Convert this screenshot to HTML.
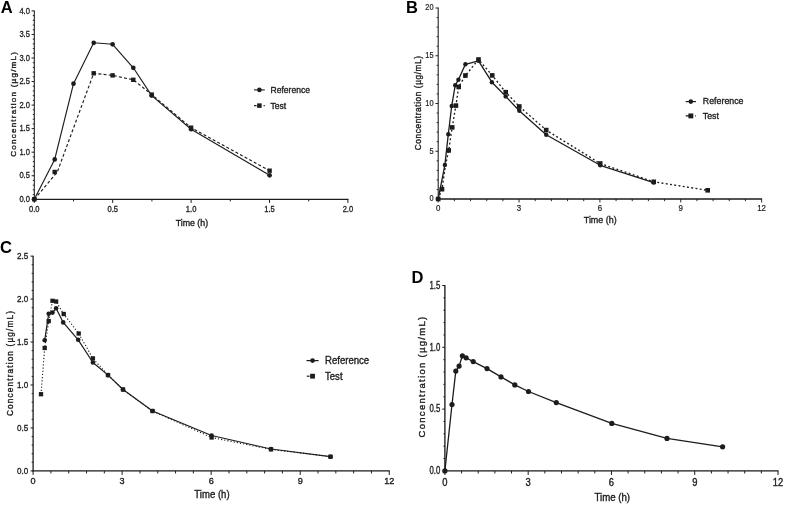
<!DOCTYPE html>
<html><head><meta charset="utf-8"><title>Concentration-time profiles</title>
<style>
html,body{margin:0;padding:0;background:#fff;}
body{width:785px;height:506px;overflow:hidden;font-family:"Liberation Sans",sans-serif;}
svg{display:block;font-family:"Liberation Sans",sans-serif;}
</style></head>
<body>
<svg width="785" height="506" viewBox="0 0 785 506">
<rect width="785" height="506" fill="#fff"/>
<g filter="url(#soft)">
<g>
<text x="0.8" y="12.8" font-size="16.5" font-weight="bold" fill="#000">A</text>
<path d="M34.3 10.4V199.9" fill="none" stroke="#1c1c1c" stroke-width="1.05"/>
<path d="M33.77 199.3H348.4" fill="none" stroke="#1c1c1c" stroke-width="1.2"/>
<path d="M34.3 199.3h-2.7M34.3 194.59h-1.5M34.3 189.88h-1.5M34.3 185.17h-1.5M34.3 180.46h-1.5M34.3 175.75h-2.7M34.3 171.04h-1.5M34.3 166.33h-1.5M34.3 161.62h-1.5M34.3 156.91h-1.5M34.3 152.2h-2.7M34.3 147.49h-1.5M34.3 142.78h-1.5M34.3 138.07h-1.5M34.3 133.36h-1.5M34.3 128.65h-2.7M34.3 123.94h-1.5M34.3 119.23h-1.5M34.3 114.52h-1.5M34.3 109.81h-1.5M34.3 105.1h-2.7M34.3 100.39h-1.5M34.3 95.68h-1.5M34.3 90.97h-1.5M34.3 86.26h-1.5M34.3 81.55h-2.7M34.3 76.84h-1.5M34.3 72.13h-1.5M34.3 67.42h-1.5M34.3 62.71h-1.5M34.3 58h-2.7M34.3 53.29h-1.5M34.3 48.58h-1.5M34.3 43.87h-1.5M34.3 39.16h-1.5M34.3 34.45h-2.7M34.3 29.74h-1.5M34.3 25.03h-1.5M34.3 20.32h-1.5M34.3 15.61h-1.5M34.3 10.9h-2.7M34.3 199.3v3.6M73.5 199.3v2.1M112.7 199.3v3.6M151.9 199.3v2.1M191.1 199.3v3.6M230.3 199.3v2.1M269.5 199.3v3.6M308.7 199.3v2.1M347.9 199.3v3.6" fill="none" stroke="#1c1c1c" stroke-width="1.0"/>
<text transform="translate(29.9 201.91) scale(0.9 1)" font-size="8.4" text-anchor="end" fill="#202020" stroke="#202020" stroke-width="0.3">0.0</text>
<text transform="translate(29.9 178.36) scale(0.9 1)" font-size="8.4" text-anchor="end" fill="#202020" stroke="#202020" stroke-width="0.3">0.5</text>
<text transform="translate(29.9 154.81) scale(0.9 1)" font-size="8.4" text-anchor="end" fill="#202020" stroke="#202020" stroke-width="0.3">1.0</text>
<text transform="translate(29.9 131.26) scale(0.9 1)" font-size="8.4" text-anchor="end" fill="#202020" stroke="#202020" stroke-width="0.3">1.5</text>
<text transform="translate(29.9 107.71) scale(0.9 1)" font-size="8.4" text-anchor="end" fill="#202020" stroke="#202020" stroke-width="0.3">2.0</text>
<text transform="translate(29.9 84.16) scale(0.9 1)" font-size="8.4" text-anchor="end" fill="#202020" stroke="#202020" stroke-width="0.3">2.5</text>
<text transform="translate(29.9 60.61) scale(0.9 1)" font-size="8.4" text-anchor="end" fill="#202020" stroke="#202020" stroke-width="0.3">3.0</text>
<text transform="translate(29.9 37.06) scale(0.9 1)" font-size="8.4" text-anchor="end" fill="#202020" stroke="#202020" stroke-width="0.3">3.5</text>
<text transform="translate(29.9 13.51) scale(0.9 1)" font-size="8.4" text-anchor="end" fill="#202020" stroke="#202020" stroke-width="0.3">4.0</text>
<text transform="translate(34.3 211.9) scale(0.9 1)" font-size="8.4" text-anchor="middle" fill="#202020" stroke="#202020" stroke-width="0.3">0.0</text>
<text transform="translate(112.7 211.9) scale(0.9 1)" font-size="8.4" text-anchor="middle" fill="#202020" stroke="#202020" stroke-width="0.3">0.5</text>
<text transform="translate(191.1 211.9) scale(0.9 1)" font-size="8.4" text-anchor="middle" fill="#202020" stroke="#202020" stroke-width="0.3">1.0</text>
<text transform="translate(269.5 211.9) scale(0.9 1)" font-size="8.4" text-anchor="middle" fill="#202020" stroke="#202020" stroke-width="0.3">1.5</text>
<text transform="translate(347.9 211.9) scale(0.9 1)" font-size="8.4" text-anchor="middle" fill="#202020" stroke="#202020" stroke-width="0.3">2.0</text>
<text transform="translate(191.9 226) scale(0.95 1)" font-size="9.3" text-anchor="middle" fill="#202020" stroke="#202020" stroke-width="0.35">Time (h)</text>
<text transform="translate(15.6 103.8) rotate(-90) scale(1.0 1)" font-size="8.1" letter-spacing="1.2" fill="#202020" stroke="#202020" stroke-width="0.35" text-anchor="middle">Concentration (µg/mL)</text>
<path d="M34.3 199.3L54.7 159.4L73.5 83.7L93.7 42.8L112.6 44.3L133.3 67.8L151.7 95.6L191.1 129.2L269.6 175.3" fill="none" stroke="#1c1c1c" stroke-width="1.15" stroke-linejoin="round"/>
<circle cx="34.3" cy="199.3" r="2.35" fill="#1c1c1c"/>
<circle cx="54.7" cy="159.4" r="2.35" fill="#1c1c1c"/>
<circle cx="73.5" cy="83.7" r="2.35" fill="#1c1c1c"/>
<circle cx="93.7" cy="42.8" r="2.35" fill="#1c1c1c"/>
<circle cx="112.6" cy="44.3" r="2.35" fill="#1c1c1c"/>
<circle cx="133.3" cy="67.8" r="2.35" fill="#1c1c1c"/>
<circle cx="151.7" cy="95.6" r="2.35" fill="#1c1c1c"/>
<circle cx="191.1" cy="129.2" r="2.35" fill="#1c1c1c"/>
<circle cx="269.6" cy="175.3" r="2.35" fill="#1c1c1c"/>
<path d="M34.3 199.3L57.3 172L93.7 73.3L112.6 75.4L133.3 79.8L151.7 94.6L191.1 127.7L269.6 170.7" fill="none" stroke="#1c1c1c" stroke-width="1.15" stroke-dasharray="3 2.2" stroke-linejoin="round"/>
<rect x="32.1" y="197.1" width="4.4" height="4.4" fill="#1c1c1c"/>
<rect x="52.5" y="169.8" width="4.4" height="4.4" fill="#1c1c1c"/>
<rect x="91.5" y="71.1" width="4.4" height="4.4" fill="#1c1c1c"/>
<rect x="110.4" y="73.2" width="4.4" height="4.4" fill="#1c1c1c"/>
<rect x="131.1" y="77.6" width="4.4" height="4.4" fill="#1c1c1c"/>
<rect x="149.5" y="92.4" width="4.4" height="4.4" fill="#1c1c1c"/>
<rect x="188.9" y="125.5" width="4.4" height="4.4" fill="#1c1c1c"/>
<rect x="267.4" y="168.5" width="4.4" height="4.4" fill="#1c1c1c"/>
<path d="M254 89.9H264.8" stroke="#1c1c1c" stroke-width="1.1"/>
<circle cx="259.4" cy="89.9" r="2.3" fill="#1c1c1c"/>
<path d="M254 105.6H256.6M263.6 105.6H264.8" stroke="#1c1c1c" stroke-width="1.1"/>
<rect x="257.15" y="103.35" width="4.5" height="4.5" fill="#1c1c1c"/>
<text transform="translate(270.6 92.8) scale(0.9 1)" font-size="9.5" text-anchor="start" fill="#202020" stroke="#202020" stroke-width="0.35">Reference</text>
<text transform="translate(270.6 108.5) scale(0.9 1)" font-size="9.5" text-anchor="start" fill="#202020" stroke="#202020" stroke-width="0.35">Test</text>
</g>
<g>
<text x="406" y="12.7" font-size="16.5" font-weight="bold" fill="#000">B</text>
<path d="M438.2 7.53V199.65" fill="none" stroke="#1c1c1c" stroke-width="1.05"/>
<path d="M437.68 199H762.07" fill="none" stroke="#1c1c1c" stroke-width="1.3"/>
<path d="M438.2 199h-2.75M438.2 189.45h-1.55M438.2 179.9h-1.55M438.2 170.35h-1.55M438.2 160.8h-1.55M438.2 151.25h-2.75M438.2 141.7h-1.55M438.2 132.15h-1.55M438.2 122.6h-1.55M438.2 113.05h-1.55M438.2 103.5h-2.75M438.2 93.95h-1.55M438.2 84.4h-1.55M438.2 74.85h-1.55M438.2 65.3h-1.55M438.2 55.75h-2.75M438.2 46.2h-1.55M438.2 36.65h-1.55M438.2 27.1h-1.55M438.2 17.55h-1.55M438.2 8h-2.75M438.2 199v3.45M454.37 199v2.15M470.54 199v2.15M486.71 199v2.15M502.88 199v2.15M519.05 199v3.45M535.22 199v2.15M551.39 199v2.15M567.56 199v2.15M583.73 199v2.15M599.9 199v3.45M616.07 199v2.15M632.24 199v2.15M648.41 199v2.15M664.58 199v2.15M680.75 199v3.45M696.92 199v2.15M713.09 199v2.15M729.26 199v2.15M745.43 199v2.15M761.6 199v3.45" fill="none" stroke="#1c1c1c" stroke-width="0.95"/>
<text transform="translate(433.6 201.28) scale(0.86 1)" font-size="8.6" text-anchor="end" fill="#202020" stroke="#202020" stroke-width="0.2">0</text>
<text transform="translate(433.6 153.53) scale(0.86 1)" font-size="8.6" text-anchor="end" fill="#202020" stroke="#202020" stroke-width="0.2">5</text>
<text transform="translate(433.6 105.78) scale(0.86 1)" font-size="8.6" text-anchor="end" fill="#202020" stroke="#202020" stroke-width="0.2">10</text>
<text transform="translate(433.6 58.03) scale(0.86 1)" font-size="8.6" text-anchor="end" fill="#202020" stroke="#202020" stroke-width="0.2">15</text>
<text transform="translate(433.6 10.28) scale(0.86 1)" font-size="8.6" text-anchor="end" fill="#202020" stroke="#202020" stroke-width="0.2">20</text>
<text transform="translate(438.2 210.8) scale(0.92 1)" font-size="8.6" text-anchor="middle" fill="#202020" stroke="#202020" stroke-width="0.2">0</text>
<text transform="translate(519.05 210.8) scale(0.92 1)" font-size="8.6" text-anchor="middle" fill="#202020" stroke="#202020" stroke-width="0.2">3</text>
<text transform="translate(599.9 210.8) scale(0.92 1)" font-size="8.6" text-anchor="middle" fill="#202020" stroke="#202020" stroke-width="0.2">6</text>
<text transform="translate(680.75 210.8) scale(0.92 1)" font-size="8.6" text-anchor="middle" fill="#202020" stroke="#202020" stroke-width="0.2">9</text>
<text transform="translate(761.6 210.8) scale(0.92 1)" font-size="8.6" text-anchor="middle" fill="#202020" stroke="#202020" stroke-width="0.2">12</text>
<text transform="translate(600.2 222.9) scale(0.94 1)" font-size="9.5" text-anchor="middle" fill="#202020" stroke="#202020" stroke-width="0.35">Time (h)</text>
<text transform="translate(420.8 102.8) rotate(-90) scale(1.0 1)" font-size="8.3" letter-spacing="0.58" fill="#202020" stroke="#202020" stroke-width="0.35" text-anchor="middle">Concentration (µg/mL)</text>
<path d="M438.2 199L444.9 164.9L448.3 134.2L451.7 106L455.2 85.3L458.4 79.8L465.4 64.3L478.5 60.8L491.9 82.2L505.7 96.4L519.3 110.8L546.2 134.7L600.2 165.3L653.7 182.6" fill="none" stroke="#1c1c1c" stroke-width="1.3" stroke-linejoin="round"/>
<circle cx="438.2" cy="199" r="2.2" fill="#1c1c1c"/>
<circle cx="444.9" cy="164.9" r="2.2" fill="#1c1c1c"/>
<circle cx="448.3" cy="134.2" r="2.2" fill="#1c1c1c"/>
<circle cx="451.7" cy="106" r="2.2" fill="#1c1c1c"/>
<circle cx="455.2" cy="85.3" r="2.2" fill="#1c1c1c"/>
<circle cx="458.4" cy="79.8" r="2.2" fill="#1c1c1c"/>
<circle cx="465.4" cy="64.3" r="2.2" fill="#1c1c1c"/>
<circle cx="478.5" cy="60.8" r="2.2" fill="#1c1c1c"/>
<circle cx="491.9" cy="82.2" r="2.2" fill="#1c1c1c"/>
<circle cx="505.7" cy="96.4" r="2.2" fill="#1c1c1c"/>
<circle cx="519.3" cy="110.8" r="2.2" fill="#1c1c1c"/>
<circle cx="546.2" cy="134.7" r="2.2" fill="#1c1c1c"/>
<circle cx="600.2" cy="165.3" r="2.2" fill="#1c1c1c"/>
<circle cx="653.7" cy="182.6" r="2.2" fill="#1c1c1c"/>
<path d="M438.2 199L442 189.2L445.4 165.5L448.7 150.4L452.2 127.4L455.9 105.6L458.7 86.9L465.4 75.5L478.5 59.5L492.2 75.4L505.7 92.2L519.3 106.5L546.2 130.1L600.2 163.5L653.7 181.8L707.7 190.3" fill="none" stroke="#1c1c1c" stroke-width="1.35" stroke-dasharray="1.9 2.4" stroke-linejoin="round"/>
<rect x="435.9" y="196.7" width="4.6" height="4.6" fill="#1c1c1c"/>
<rect x="439.7" y="186.9" width="4.6" height="4.6" fill="#1c1c1c"/>
<rect x="446.4" y="148.1" width="4.6" height="4.6" fill="#1c1c1c"/>
<rect x="449.9" y="125.1" width="4.6" height="4.6" fill="#1c1c1c"/>
<rect x="453.6" y="103.3" width="4.6" height="4.6" fill="#1c1c1c"/>
<rect x="456.4" y="84.6" width="4.6" height="4.6" fill="#1c1c1c"/>
<rect x="463.1" y="73.2" width="4.6" height="4.6" fill="#1c1c1c"/>
<rect x="476.2" y="57.2" width="4.6" height="4.6" fill="#1c1c1c"/>
<rect x="489.9" y="73.1" width="4.6" height="4.6" fill="#1c1c1c"/>
<rect x="503.4" y="89.9" width="4.6" height="4.6" fill="#1c1c1c"/>
<rect x="517" y="104.2" width="4.6" height="4.6" fill="#1c1c1c"/>
<rect x="543.9" y="127.8" width="4.6" height="4.6" fill="#1c1c1c"/>
<rect x="597.9" y="161.2" width="4.6" height="4.6" fill="#1c1c1c"/>
<rect x="651.4" y="179.5" width="4.6" height="4.6" fill="#1c1c1c"/>
<rect x="705.4" y="188" width="4.6" height="4.6" fill="#1c1c1c"/>
<path d="M685.7 101.6H696" stroke="#1c1c1c" stroke-width="1.15"/>
<circle cx="690.85" cy="101.6" r="2.3" fill="#1c1c1c"/>
<path d="M685.7 115.9H689M695.2 115.9H696" stroke="#1c1c1c" stroke-width="1.15"/>
<rect x="688.4" y="113.45" width="4.9" height="4.9" fill="#1c1c1c"/>
<text transform="translate(702.8 104.24) scale(0.92 1)" font-size="9.6" text-anchor="start" fill="#202020" stroke="#202020" stroke-width="0.35">Reference</text>
<text transform="translate(702.8 118.54) scale(0.92 1)" font-size="9.6" text-anchor="start" fill="#202020" stroke="#202020" stroke-width="0.35">Test</text>
</g>
<g>
<text x="0" y="253" font-size="16.5" font-weight="bold" fill="#000">C</text>
<path d="M33.1 255.65V471.55" fill="none" stroke="#1c1c1c" stroke-width="1.3"/>
<path d="M32.45 470.9H389.76" fill="none" stroke="#1c1c1c" stroke-width="1.3"/>
<path d="M33.1 470.9h-2.55M33.1 462.31h-1.45M33.1 453.72h-1.45M33.1 445.13h-1.45M33.1 436.54h-1.45M33.1 427.95h-2.55M33.1 419.36h-1.45M33.1 410.77h-1.45M33.1 402.18h-1.45M33.1 393.59h-1.45M33.1 385h-2.55M33.1 376.41h-1.45M33.1 367.82h-1.45M33.1 359.23h-1.45M33.1 350.64h-1.45M33.1 342.05h-2.55M33.1 333.46h-1.45M33.1 324.87h-1.45M33.1 316.28h-1.45M33.1 307.69h-1.45M33.1 299.1h-2.55M33.1 290.51h-1.45M33.1 281.92h-1.45M33.1 273.33h-1.45M33.1 264.74h-1.45M33.1 256.15h-2.55M33.1 470.9v4.05M50.91 470.9v2.55M68.72 470.9v2.55M86.52 470.9v2.55M104.33 470.9v2.55M122.14 470.9v4.05M139.95 470.9v2.55M157.76 470.9v2.55M175.56 470.9v2.55M193.37 470.9v2.55M211.18 470.9v4.05M228.99 470.9v2.55M246.8 470.9v2.55M264.6 470.9v2.55M282.41 470.9v2.55M300.22 470.9v4.05M318.03 470.9v2.55M335.84 470.9v2.55M353.64 470.9v2.55M371.45 470.9v2.55M389.26 470.9v4.05" fill="none" stroke="#1c1c1c" stroke-width="1.0"/>
<text transform="translate(28.3 473.74) scale(0.82 1)" font-size="9.9" text-anchor="end" fill="#202020" stroke="#202020" stroke-width="0.35">0.0</text>
<text transform="translate(28.3 430.79) scale(0.82 1)" font-size="9.9" text-anchor="end" fill="#202020" stroke="#202020" stroke-width="0.35">0.5</text>
<text transform="translate(28.3 387.84) scale(0.82 1)" font-size="9.9" text-anchor="end" fill="#202020" stroke="#202020" stroke-width="0.35">1.0</text>
<text transform="translate(28.3 344.89) scale(0.82 1)" font-size="9.9" text-anchor="end" fill="#202020" stroke="#202020" stroke-width="0.35">1.5</text>
<text transform="translate(28.3 301.94) scale(0.82 1)" font-size="9.9" text-anchor="end" fill="#202020" stroke="#202020" stroke-width="0.35">2.0</text>
<text transform="translate(28.3 258.99) scale(0.82 1)" font-size="9.9" text-anchor="end" fill="#202020" stroke="#202020" stroke-width="0.35">2.5</text>
<text transform="translate(33.1 484.4) scale(0.92 1)" font-size="9.9" text-anchor="middle" fill="#202020" stroke="#202020" stroke-width="0.35">0</text>
<text transform="translate(122.14 484.4) scale(0.92 1)" font-size="9.9" text-anchor="middle" fill="#202020" stroke="#202020" stroke-width="0.35">3</text>
<text transform="translate(211.18 484.4) scale(0.92 1)" font-size="9.9" text-anchor="middle" fill="#202020" stroke="#202020" stroke-width="0.35">6</text>
<text transform="translate(300.22 484.4) scale(0.92 1)" font-size="9.9" text-anchor="middle" fill="#202020" stroke="#202020" stroke-width="0.35">9</text>
<text transform="translate(389.26 484.4) scale(0.92 1)" font-size="9.9" text-anchor="middle" fill="#202020" stroke="#202020" stroke-width="0.35">12</text>
<text transform="translate(211.98 498.3) scale(0.93 1)" font-size="10.3" text-anchor="middle" fill="#202020" stroke="#202020" stroke-width="0.35">Time (h)</text>
<text transform="translate(13.3 363) rotate(-90) scale(1.0 1)" font-size="8.3" letter-spacing="1.12" fill="#202020" stroke="#202020" stroke-width="0.35" text-anchor="middle">Concentration (µg/mL)</text>
<path d="M44.7 340.3L48.7 313.7L52.5 312.6L56.1 308.2L63.2 322.4L78.2 339.8L92.9 362.5L108 375.1L123 389.5L152.5 411L211.6 435.5L271 449L330.5 456.7" fill="none" stroke="#1c1c1c" stroke-width="1.2" stroke-linejoin="round"/>
<circle cx="44.7" cy="340.3" r="2.3" fill="#1c1c1c"/>
<circle cx="48.7" cy="313.7" r="2.3" fill="#1c1c1c"/>
<circle cx="52.5" cy="312.6" r="2.3" fill="#1c1c1c"/>
<circle cx="56.1" cy="308.2" r="2.3" fill="#1c1c1c"/>
<circle cx="63.2" cy="322.4" r="2.3" fill="#1c1c1c"/>
<circle cx="78.2" cy="339.8" r="2.3" fill="#1c1c1c"/>
<circle cx="92.9" cy="362.5" r="2.3" fill="#1c1c1c"/>
<circle cx="108" cy="375.1" r="2.3" fill="#1c1c1c"/>
<circle cx="123" cy="389.5" r="2.3" fill="#1c1c1c"/>
<circle cx="152.5" cy="411" r="2.3" fill="#1c1c1c"/>
<circle cx="211.6" cy="435.5" r="2.3" fill="#1c1c1c"/>
<circle cx="271" cy="449" r="2.3" fill="#1c1c1c"/>
<circle cx="330.5" cy="456.7" r="2.3" fill="#1c1c1c"/>
<path d="M41 394.2L44.7 348L48.7 321.1L52.5 300.8L56.1 301.5L63.7 314L78.7 333.5L92.9 358.4L108 375.1L123 389.5L152.5 411L211.6 437.5L271 449.4L330.5 456.7" fill="none" stroke="#1c1c1c" stroke-width="1.1" stroke-dasharray="1.2 2.0" stroke-linejoin="round"/>
<rect x="38.85" y="392.05" width="4.3" height="4.3" fill="#1c1c1c"/>
<rect x="42.55" y="345.85" width="4.3" height="4.3" fill="#1c1c1c"/>
<rect x="46.55" y="318.95" width="4.3" height="4.3" fill="#1c1c1c"/>
<rect x="50.35" y="298.65" width="4.3" height="4.3" fill="#1c1c1c"/>
<rect x="53.95" y="299.35" width="4.3" height="4.3" fill="#1c1c1c"/>
<rect x="61.55" y="311.85" width="4.3" height="4.3" fill="#1c1c1c"/>
<rect x="76.55" y="331.35" width="4.3" height="4.3" fill="#1c1c1c"/>
<rect x="90.75" y="356.25" width="4.3" height="4.3" fill="#1c1c1c"/>
<rect x="105.85" y="372.95" width="4.3" height="4.3" fill="#1c1c1c"/>
<rect x="120.85" y="387.35" width="4.3" height="4.3" fill="#1c1c1c"/>
<rect x="150.35" y="408.85" width="4.3" height="4.3" fill="#1c1c1c"/>
<rect x="209.45" y="435.35" width="4.3" height="4.3" fill="#1c1c1c"/>
<rect x="268.85" y="447.25" width="4.3" height="4.3" fill="#1c1c1c"/>
<rect x="328.35" y="454.55" width="4.3" height="4.3" fill="#1c1c1c"/>
<path d="M306.5 360.6H318.6" stroke="#1c1c1c" stroke-width="1.2"/>
<circle cx="312.55" cy="360.6" r="2.4" fill="#1c1c1c"/>
<path d="M306.8 376.2H309.6" stroke="#1c1c1c" stroke-width="1.2"/>
<rect x="310.15" y="373.8" width="4.8" height="4.8" fill="#1c1c1c"/>
<text transform="translate(325 363.99) scale(0.93 1)" font-size="10.3" text-anchor="start" fill="#202020" stroke="#202020" stroke-width="0.35">Reference</text>
<text transform="translate(325 379.59) scale(0.93 1)" font-size="10.3" text-anchor="start" fill="#202020" stroke="#202020" stroke-width="0.35">Test</text>
</g>
<g>
<text x="411.6" y="283.2" font-size="16.5" font-weight="bold" fill="#000">D</text>
<path d="M444.9 285V471.57" fill="none" stroke="#1c1c1c" stroke-width="1.35"/>
<path d="M444.22 470.9H778.52" fill="none" stroke="#1c1c1c" stroke-width="1.35"/>
<path d="M444.9 470.9h-2.67M444.9 458.54h-1.48M444.9 446.18h-1.48M444.9 433.82h-1.48M444.9 421.46h-1.48M444.9 409.1h-2.67M444.9 396.74h-1.48M444.9 384.38h-1.48M444.9 372.02h-1.48M444.9 359.66h-1.48M444.9 347.3h-2.67M444.9 334.94h-1.48M444.9 322.58h-1.48M444.9 310.22h-1.48M444.9 297.86h-1.48M444.9 285.5h-2.67M444.9 470.9v4.08M461.56 470.9v2.58M478.21 470.9v2.58M494.87 470.9v2.58M511.52 470.9v2.58M528.18 470.9v4.08M544.84 470.9v2.58M561.49 470.9v2.58M578.15 470.9v2.58M594.8 470.9v2.58M611.46 470.9v4.08M628.12 470.9v2.58M644.77 470.9v2.58M661.43 470.9v2.58M678.08 470.9v2.58M694.74 470.9v4.08M711.4 470.9v2.58M728.05 470.9v2.58M744.71 470.9v2.58M761.36 470.9v2.58M778.02 470.9v4.08" fill="none" stroke="#1c1c1c" stroke-width="1.0"/>
<text transform="translate(440.2 474.25) scale(0.76 1)" font-size="10.2" text-anchor="end" fill="#202020" stroke="#202020" stroke-width="0.35">0.0</text>
<text transform="translate(440.2 412.45) scale(0.76 1)" font-size="10.2" text-anchor="end" fill="#202020" stroke="#202020" stroke-width="0.35">0.5</text>
<text transform="translate(440.2 350.65) scale(0.76 1)" font-size="10.2" text-anchor="end" fill="#202020" stroke="#202020" stroke-width="0.35">1.0</text>
<text transform="translate(440.2 288.85) scale(0.76 1)" font-size="10.2" text-anchor="end" fill="#202020" stroke="#202020" stroke-width="0.35">1.5</text>
<text transform="translate(444.9 485.6) scale(0.92 1)" font-size="10.2" text-anchor="middle" fill="#202020" stroke="#202020" stroke-width="0.35">0</text>
<text transform="translate(528.18 485.6) scale(0.92 1)" font-size="10.2" text-anchor="middle" fill="#202020" stroke="#202020" stroke-width="0.35">3</text>
<text transform="translate(611.46 485.6) scale(0.92 1)" font-size="10.2" text-anchor="middle" fill="#202020" stroke="#202020" stroke-width="0.35">6</text>
<text transform="translate(694.74 485.6) scale(0.92 1)" font-size="10.2" text-anchor="middle" fill="#202020" stroke="#202020" stroke-width="0.35">9</text>
<text transform="translate(778.02 485.6) scale(0.92 1)" font-size="10.2" text-anchor="middle" fill="#202020" stroke="#202020" stroke-width="0.35">12</text>
<text transform="translate(612.26 501.2) scale(0.95 1)" font-size="10.2" text-anchor="middle" fill="#202020" stroke="#202020" stroke-width="0.35">Time (h)</text>
<text transform="translate(425.4 376.5) rotate(-90) scale(1.0 1)" font-size="9.5" letter-spacing="1.3" fill="#202020" stroke="#202020" stroke-width="0.35" text-anchor="middle">Concentration (µg/mL)</text>
<path d="M444.9 470.9L452 404.5L455.8 371.1L459.1 366.1L462.4 355.8L466.1 357.8L473.2 361.6L487 368.6L501 376.9L514.8 384.9L528.5 391.5L556.3 402.6L611.8 423.4L667 438.4L722.6 446.8" fill="none" stroke="#1c1c1c" stroke-width="1.3" stroke-linejoin="round"/>
<circle cx="444.9" cy="470.9" r="2.6" fill="#1c1c1c"/>
<circle cx="452" cy="404.5" r="2.6" fill="#1c1c1c"/>
<circle cx="455.8" cy="371.1" r="2.6" fill="#1c1c1c"/>
<circle cx="459.1" cy="366.1" r="2.6" fill="#1c1c1c"/>
<circle cx="462.4" cy="355.8" r="2.6" fill="#1c1c1c"/>
<circle cx="466.1" cy="357.8" r="2.6" fill="#1c1c1c"/>
<circle cx="473.2" cy="361.6" r="2.6" fill="#1c1c1c"/>
<circle cx="487" cy="368.6" r="2.6" fill="#1c1c1c"/>
<circle cx="501" cy="376.9" r="2.6" fill="#1c1c1c"/>
<circle cx="514.8" cy="384.9" r="2.6" fill="#1c1c1c"/>
<circle cx="528.5" cy="391.5" r="2.6" fill="#1c1c1c"/>
<circle cx="556.3" cy="402.6" r="2.6" fill="#1c1c1c"/>
<circle cx="611.8" cy="423.4" r="2.6" fill="#1c1c1c"/>
<circle cx="667" cy="438.4" r="2.6" fill="#1c1c1c"/>
<circle cx="722.6" cy="446.8" r="2.6" fill="#1c1c1c"/>
</g>
</g>
<defs><filter id="soft" x="0" y="0" width="785" height="506" filterUnits="userSpaceOnUse"><feGaussianBlur stdDeviation="0.42"/></filter></defs>
</svg>
</body></html>
